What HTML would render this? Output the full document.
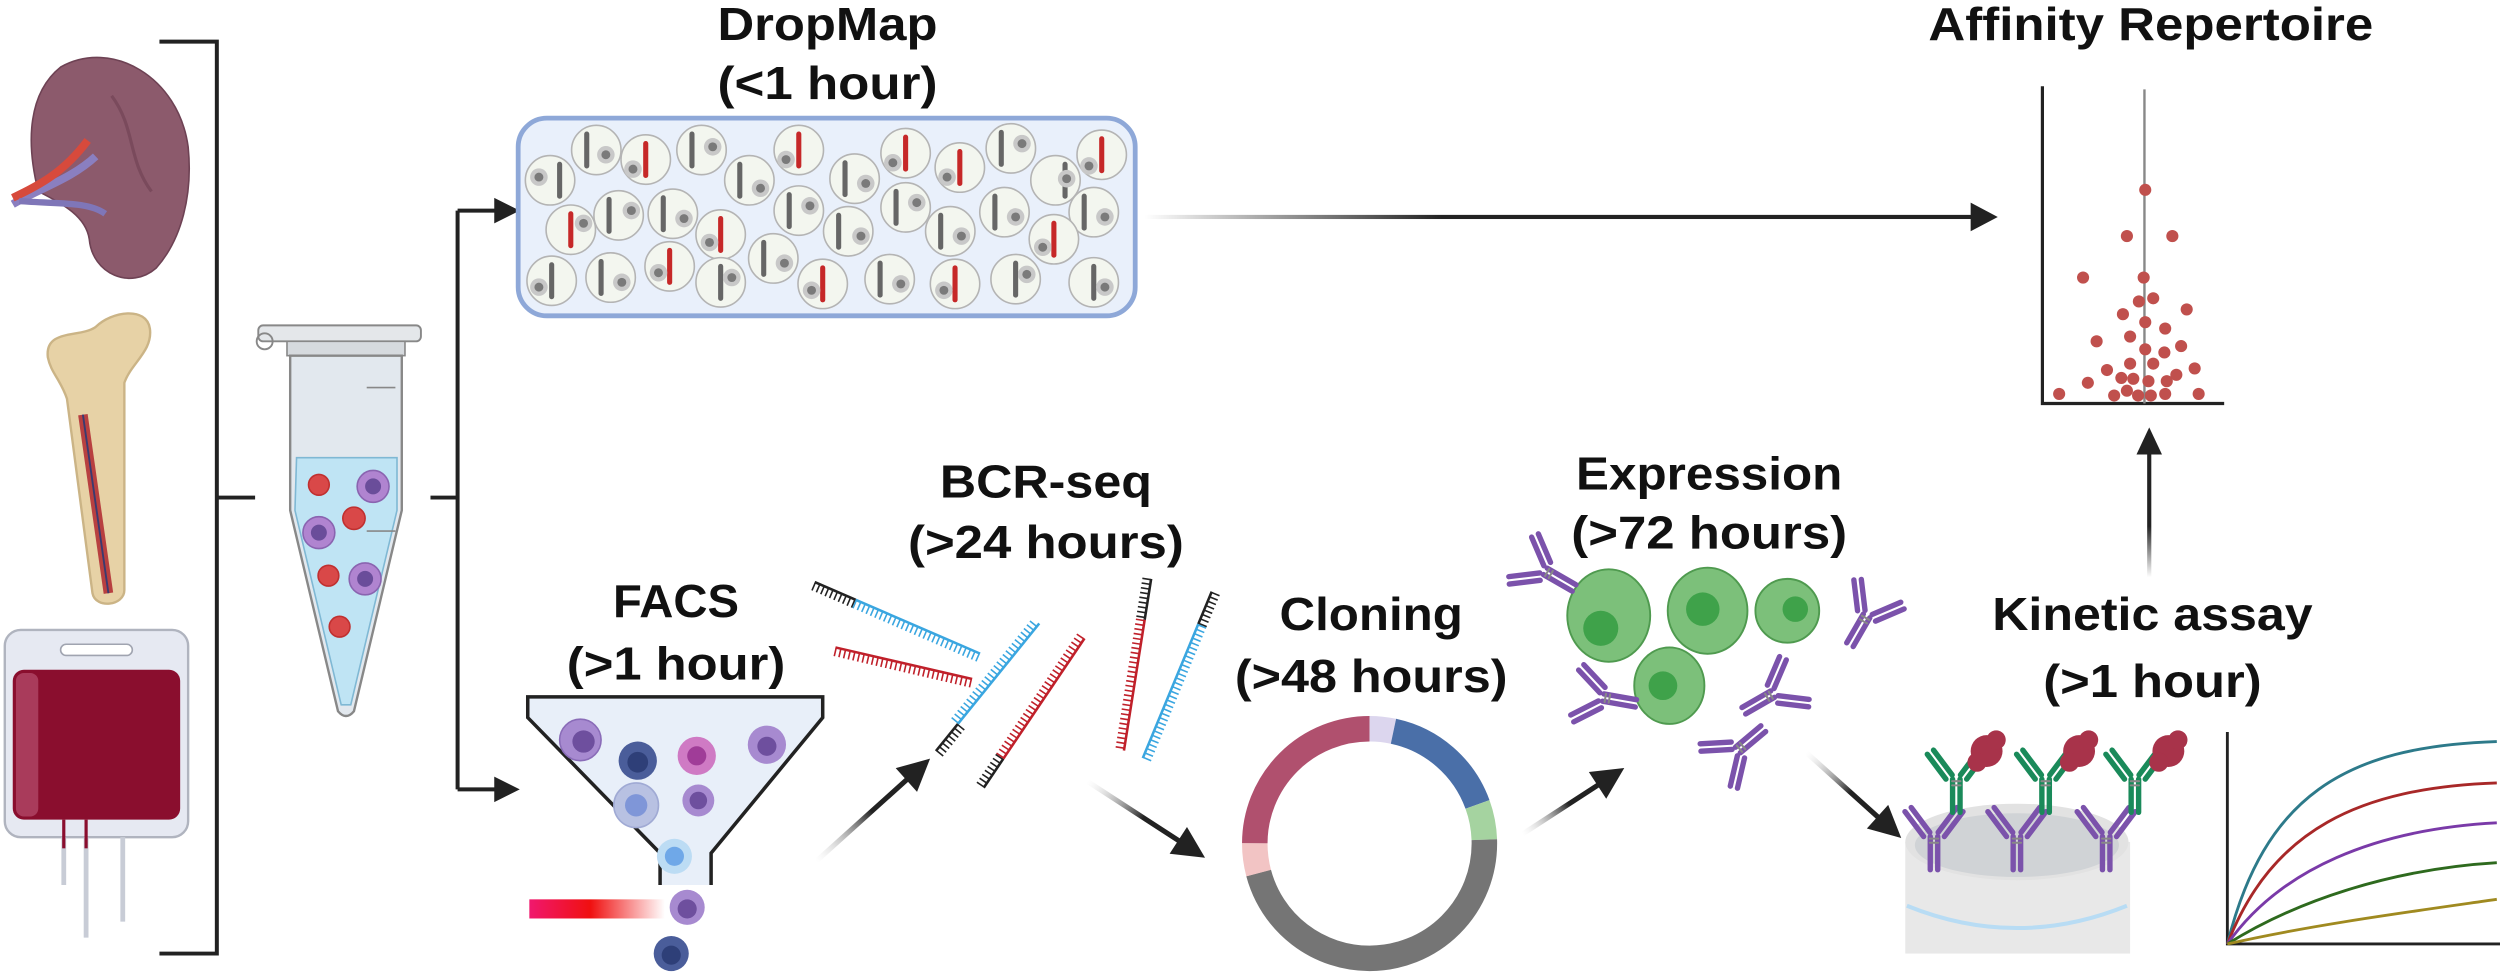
<!DOCTYPE html>
<html><head><meta charset="utf-8"><style>
html,body{margin:0;padding:0;background:#fff;}
svg{display:block;}
text{font-family:"Liberation Sans Narrow","Liberation Sans",sans-serif;font-weight:bold;fill:#111;text-anchor:middle;}
</style></head><body>
<svg width="2500" height="976" viewBox="0 0 1568 612" xmlns="http://www.w3.org/2000/svg">
<defs>
<linearGradient id="gA" x1="718" y1="0" x2="1250" y2="0" gradientUnits="userSpaceOnUse"><stop offset="0" stop-color="#fff"/><stop offset="0.35" stop-color="#222"/><stop offset="1" stop-color="#222"/></linearGradient>
<linearGradient id="gD" x1="0" y1="0" x2="1" y2="0"><stop offset="0" stop-color="#fff" stop-opacity="0.2"/><stop offset="0.6" stop-color="#222"/><stop offset="1" stop-color="#222"/></linearGradient>
<linearGradient id="gU" x1="0" y1="1" x2="0" y2="0"><stop offset="0" stop-color="#fff"/><stop offset="0.4" stop-color="#222"/><stop offset="1" stop-color="#222"/></linearGradient>
<linearGradient id="gL" x1="0" y1="0" x2="1" y2="0"><stop offset="0" stop-color="#f0186e"/><stop offset="0.45" stop-color="#f01010"/><stop offset="1" stop-color="#fff"/></linearGradient>
<g id="ab0" stroke-linecap="round" fill="none">
<line x1="-1.8" y1="2" x2="-1.8" y2="18" stroke-width="2.6"/><line x1="1.8" y1="2" x2="1.8" y2="18" stroke-width="2.6"/>
<line x1="-2" y1="0" x2="-11" y2="-12" stroke-width="2.6"/><line x1="-5" y1="2" x2="-14" y2="-10" stroke-width="2.6"/>
<line x1="2" y1="0" x2="11" y2="-12" stroke-width="2.6"/><line x1="5" y1="2" x2="14" y2="-10" stroke-width="2.6"/>
<line x1="-2" y1="3" x2="2" y2="3" stroke="#888" stroke-width="1"/><line x1="-2" y1="5" x2="2" y2="5" stroke="#888" stroke-width="1"/>
</g>
<g id="ab"><use href="#ab0" transform="scale(1.3)"/></g>
<g id="dg"><circle r="15.5" fill="#f3f6ef" stroke="#b4b4b4" stroke-width="1"/></g>
<g id="cell"><circle r="5.5" fill="#c8c8c8"/><circle r="2.8" fill="#7a7a7a"/></g>
</defs>

<!-- kidney -->
<path d="M38 42 C70 24 112 48 118 92 C121 122 114 150 98 168 C82 182 58 172 56 150 C54 136 40 128 24 120 C16 88 18 58 38 42 Z" fill="#8c5a6c" stroke="#6e4254" stroke-width="1"/>
<path d="M70 60 C85 80 80 100 95 120" stroke="#7a4a5c" stroke-width="2" fill="none"/>
<path d="M8 128 C25 118 45 112 60 98" stroke="#8a7fc0" stroke-width="5" fill="none"/>
<path d="M8 124 C25 116 40 108 55 88" stroke="#d74a3c" stroke-width="5" fill="none"/>
<path d="M12 126 C35 128 55 126 66 134" stroke="#7f76b8" stroke-width="4" fill="none"/>
<!-- bone -->
<path d="M30 224 C28 206 50 212 60 205 C70 195 92 192 94 206 C96 220 82 228 78 240 L78 370 C78 380 60 382 58 372 L42 250 C38 238 32 234 30 224 Z" fill="#e7d2a6" stroke="#cbb486" stroke-width="1.5"/>
<path d="M52 260 L68 372" stroke="#b84040" stroke-width="6" fill="none"/>
<path d="M52 260 L68 372" stroke="#3a3a70" stroke-width="1.2" fill="none"/>
<!-- blood bag -->
<rect x="3" y="395" width="115" height="130" rx="10" fill="#e6e9f2" stroke="#b0b4bf" stroke-width="1.5"/>
<rect x="38" y="404" width="45" height="7" rx="3.5" fill="#fff" stroke="#a0a4b0"/>
<rect x="8" y="420" width="105" height="94" rx="7" fill="#8a0e2e"/>
<rect x="10" y="422" width="14" height="90" rx="5" fill="#b04766" opacity="0.8"/>
<g stroke="#c8ccd6" stroke-width="3"><line x1="40" y1="525" x2="40" y2="555"/><line x1="54" y1="525" x2="54" y2="588"/><line x1="77" y1="525" x2="77" y2="578"/></g>
<g stroke="#8a0e2e" stroke-width="2"><line x1="40" y1="514" x2="40" y2="532"/><line x1="54" y1="514" x2="54" y2="532"/></g>
<!-- bracket -->
<path d="M100 26 H136 V598 H100" stroke="#222" stroke-width="2.5" fill="none"/>
<line x1="137" y1="312" x2="160" y2="312" stroke="#222" stroke-width="2.5"/>
<!-- tube -->
<rect x="162" y="204" width="102" height="10" rx="3" fill="#e4e7ea" stroke="#888" stroke-width="1.2"/>
<circle cx="166" cy="214" r="5" fill="none" stroke="#888" stroke-width="1.2"/>
<rect x="180" y="214" width="74" height="9" fill="#d6dade" stroke="#888" stroke-width="1"/>
<path d="M182 223 H252 V320 L222 446 Q217 452 212 446 L182 320 Z" fill="#e2e8ee" stroke="#888" stroke-width="1.5"/>
<path d="M186 287 H249 V320 L220 442 L214 442 L185 320 Z" fill="#bfe4f4" stroke="#7fb8d4" stroke-width="1"/>
<line x1="230" y1="243" x2="248" y2="243" stroke="#888"/><line x1="230" y1="333" x2="248" y2="333" stroke="#888"/>
<g fill="#d94848" stroke="#c03030"><circle cx="200" cy="304" r="6.5"/><circle cx="222" cy="325" r="7"/><circle cx="206" cy="361" r="6.5"/><circle cx="213" cy="393" r="6.5"/></g>
<g fill="#b084d0" stroke="#8a64b0"><circle cx="234" cy="305" r="10"/><circle cx="200" cy="334" r="10"/><circle cx="229" cy="363" r="10"/></g>
<g fill="#6a4d9a"><circle cx="234" cy="305" r="5"/><circle cx="200" cy="334" r="5"/><circle cx="229" cy="363" r="5"/></g>
<!-- branch -->
<path d="M270 312 H287 M287 132 V495 M287 132 H312 M287 495 H312" stroke="#222" stroke-width="2.5" fill="none"/>
<polygon points="310,124 326,132 310,140" fill="#222"/><polygon points="310,487 326,495 310,503" fill="#222"/>
<!-- DropMap box -->
<rect x="325" y="74" width="387" height="124" rx="18" fill="#e9f0fb" stroke="#8ea8d8" stroke-width="3"/>
<g>
<use href="#dg" x="374" y="94"/><use href="#dg" x="405" y="100"/><use href="#dg" x="440" y="94"/><use href="#dg" x="501" y="94"/><use href="#dg" x="568" y="96"/><use href="#dg" x="602" y="105"/><use href="#dg" x="634" y="93"/><use href="#dg" x="691" y="97"/>
<use href="#dg" x="345" y="113"/><use href="#dg" x="470" y="113"/><use href="#dg" x="536" y="112"/><use href="#dg" x="662" y="113"/>
<use href="#dg" x="388" y="135"/><use href="#dg" x="422" y="134"/><use href="#dg" x="501" y="132"/><use href="#dg" x="568" y="130"/><use href="#dg" x="630" y="133"/><use href="#dg" x="686" y="133"/>
<use href="#dg" x="358" y="144"/><use href="#dg" x="452" y="147"/><use href="#dg" x="532" y="145"/><use href="#dg" x="596" y="145"/><use href="#dg" x="661" y="150"/>
<use href="#dg" x="485" y="162"/>
<use href="#dg" x="346" y="176"/><use href="#dg" x="383" y="174"/><use href="#dg" x="420" y="167"/><use href="#dg" x="452" y="177"/><use href="#dg" x="516" y="178"/><use href="#dg" x="558" y="175"/><use href="#dg" x="599" y="178"/><use href="#dg" x="637" y="175"/><use href="#dg" x="686" y="177"/>
</g>
<g stroke-width="3.2" stroke-linecap="round">
<g stroke="#666"><line x1="368" y1="84" x2="368" y2="104"/><line x1="434" y1="84" x2="434" y2="104"/><line x1="628" y1="83" x2="628" y2="103"/><line x1="351" y1="103" x2="351" y2="123"/><line x1="464" y1="103" x2="464" y2="123"/><line x1="530" y1="102" x2="530" y2="122"/><line x1="668" y1="103" x2="668" y2="123"/><line x1="382" y1="125" x2="382" y2="145"/><line x1="416" y1="124" x2="416" y2="144"/><line x1="495" y1="122" x2="495" y2="142"/><line x1="562" y1="120" x2="562" y2="140"/><line x1="624" y1="123" x2="624" y2="143"/><line x1="680" y1="123" x2="680" y2="143"/><line x1="526" y1="135" x2="526" y2="155"/><line x1="590" y1="135" x2="590" y2="155"/><line x1="479" y1="152" x2="479" y2="172"/><line x1="346" y1="166" x2="346" y2="186"/><line x1="377" y1="164" x2="377" y2="184"/><line x1="452" y1="167" x2="452" y2="187"/><line x1="552" y1="165" x2="552" y2="185"/><line x1="637" y1="165" x2="637" y2="185"/><line x1="686" y1="167" x2="686" y2="187"/></g>
<g stroke="#c62828"><line x1="405" y1="90" x2="405" y2="110"/><line x1="501" y1="84" x2="501" y2="104"/><line x1="568" y1="86" x2="568" y2="106"/><line x1="602" y1="95" x2="602" y2="115"/><line x1="691" y1="87" x2="691" y2="107"/><line x1="358" y1="134" x2="358" y2="154"/><line x1="452" y1="137" x2="452" y2="157"/><line x1="661" y1="140" x2="661" y2="160"/><line x1="420" y1="157" x2="420" y2="177"/><line x1="516" y1="168" x2="516" y2="188"/><line x1="599" y1="168" x2="599" y2="188"/></g>
</g>
<g>
<use href="#cell" x="380" y="97"/><use href="#cell" x="397" y="106"/><use href="#cell" x="447" y="92"/><use href="#cell" x="493" y="100"/><use href="#cell" x="560" y="102"/><use href="#cell" x="594" y="111"/><use href="#cell" x="641" y="90"/><use href="#cell" x="683" y="104"/>
<use href="#cell" x="338" y="111"/><use href="#cell" x="477" y="118"/><use href="#cell" x="543" y="115"/><use href="#cell" x="669" y="112"/>
<use href="#cell" x="396" y="132"/><use href="#cell" x="429" y="137"/><use href="#cell" x="508" y="129"/><use href="#cell" x="575" y="127"/><use href="#cell" x="637" y="136"/><use href="#cell" x="693" y="136"/>
<use href="#cell" x="366" y="140"/><use href="#cell" x="445" y="152"/><use href="#cell" x="540" y="148"/><use href="#cell" x="603" y="148"/><use href="#cell" x="654" y="155"/>
<use href="#cell" x="492" y="165"/>
<use href="#cell" x="338" y="180"/><use href="#cell" x="390" y="177"/><use href="#cell" x="413" y="171"/><use href="#cell" x="459" y="174"/><use href="#cell" x="509" y="182"/><use href="#cell" x="565" y="178"/><use href="#cell" x="592" y="182"/><use href="#cell" x="644" y="172"/><use href="#cell" x="693" y="180"/>
</g>
<!-- DropMap arrow -->
<rect x="718" y="134.7" width="522" height="2.6" fill="url(#gA)"/>
<polygon points="1236,127 1253,136 1236,145" fill="#222"/>
<!-- titles -->
<text x="519" y="25" font-size="29" textLength="138" lengthAdjust="spacingAndGlyphs">DropMap</text>
<text x="519" y="62" font-size="29" textLength="138" lengthAdjust="spacingAndGlyphs">(&lt;1 hour)</text>
<text x="1349" y="25" font-size="29" textLength="279" lengthAdjust="spacingAndGlyphs">Affinity Repertoire</text>
<text x="424" y="387" font-size="29" textLength="79" lengthAdjust="spacingAndGlyphs">FACS</text>
<text x="424" y="426" font-size="29" textLength="137" lengthAdjust="spacingAndGlyphs">(&gt;1 hour)</text>
<text x="656" y="312" font-size="29" textLength="133" lengthAdjust="spacingAndGlyphs">BCR-seq</text>
<text x="656" y="350" font-size="29" textLength="173" lengthAdjust="spacingAndGlyphs">(&gt;24 hours)</text>
<text x="860" y="395" font-size="29" textLength="115" lengthAdjust="spacingAndGlyphs">Cloning</text>
<text x="860" y="434" font-size="29" textLength="171" lengthAdjust="spacingAndGlyphs">(&gt;48 hours)</text>
<text x="1072" y="307" font-size="29" textLength="167" lengthAdjust="spacingAndGlyphs">Expression</text>
<text x="1072" y="344" font-size="29" textLength="173" lengthAdjust="spacingAndGlyphs">(&gt;72 hours)</text>
<text x="1350" y="395" font-size="29" textLength="201" lengthAdjust="spacingAndGlyphs">Kinetic assay</text>
<text x="1350" y="437" font-size="29" textLength="137" lengthAdjust="spacingAndGlyphs">(&gt;1 hour)</text>
<!-- affinity plot -->
<path d="M1281 54 V253 H1395" stroke="#222" stroke-width="2" fill="none"/>
<line x1="1345" y1="56" x2="1345" y2="253" stroke="#888" stroke-width="1.5"/>
<g fill="#c0504d">
<circle cx="1345.5" cy="119" r="3.8"/><circle cx="1334" cy="148" r="3.8"/><circle cx="1362.5" cy="148" r="3.8"/><circle cx="1306.5" cy="174" r="3.8"/><circle cx="1344.5" cy="174" r="3.8"/><circle cx="1341.5" cy="189" r="3.8"/><circle cx="1350.5" cy="187" r="3.8"/><circle cx="1371.5" cy="194" r="3.8"/><circle cx="1331.5" cy="197" r="3.8"/><circle cx="1345.5" cy="202" r="3.8"/><circle cx="1358" cy="206" r="3.8"/><circle cx="1315" cy="214" r="3.8"/><circle cx="1336" cy="211" r="3.8"/><circle cx="1368" cy="217" r="3.8"/><circle cx="1345.5" cy="219" r="3.8"/><circle cx="1357.5" cy="221" r="3.8"/><circle cx="1336" cy="228" r="3.8"/><circle cx="1350.5" cy="228" r="3.8"/><circle cx="1321.5" cy="232" r="3.8"/><circle cx="1376.5" cy="231" r="3.8"/><circle cx="1330.5" cy="237" r="3.8"/><circle cx="1338" cy="237.5" r="3.8"/><circle cx="1365" cy="235" r="3.8"/><circle cx="1309.5" cy="240" r="3.8"/><circle cx="1347.5" cy="239" r="3.8"/><circle cx="1359" cy="239" r="3.8"/><circle cx="1291.5" cy="247" r="3.8"/><circle cx="1326" cy="248" r="3.8"/><circle cx="1334" cy="245" r="3.8"/><circle cx="1341" cy="248" r="3.8"/><circle cx="1349" cy="248" r="3.8"/><circle cx="1358" cy="247" r="3.8"/><circle cx="1379" cy="247" r="3.8"/>
</g>
<!-- up arrow -->
<rect x="1346.7" y="282" width="2.6" height="80" fill="url(#gU)"/>
<polygon points="1340,285 1348,268 1356,285" fill="#222"/>
<!-- funnel -->
<path d="M331 437 H516 V450 L446 535 V555 H414 V535 L331 450 Z" fill="#e8eff9"/>
<path d="M414 555 V535 L331 450 V437 H516 V450 L446 535 V555" fill="none" stroke="#222" stroke-width="2.2"/>
<g><circle cx="364" cy="464" r="13" fill="#a78ad0" stroke="#8a6cb8"/><circle cx="366" cy="465" r="7" fill="#6e4f9e"/>
<circle cx="400" cy="477" r="12" fill="#4a5d9a"/><circle cx="400" cy="478" r="6.5" fill="#2e3f78"/>
<circle cx="437" cy="474" r="12" fill="#cf7ac4"/><circle cx="437" cy="474" r="6" fill="#a03c98"/>
<circle cx="481" cy="467" r="12" fill="#a78ad0"/><circle cx="481" cy="468" r="6" fill="#6e4f9e"/>
<circle cx="399" cy="505" r="14" fill="#b8c1e2" stroke="#a0aad4"/><circle cx="399" cy="505" r="7" fill="#7f96d8"/>
<circle cx="438" cy="502" r="10" fill="#a78ad0"/><circle cx="438" cy="502" r="5.5" fill="#6e4f9e"/>
<circle cx="423" cy="537" r="11" fill="#bcdcf4"/><circle cx="423" cy="537" r="6" fill="#6fa8e8"/>
<circle cx="431" cy="569" r="11" fill="#a78ad0"/><circle cx="431" cy="570" r="6" fill="#6e4f9e"/>
<circle cx="421" cy="598" r="11" fill="#4a5d9a"/><circle cx="421" cy="599" r="6" fill="#2e3f78"/></g>
<rect x="332" y="564" width="85" height="12" fill="url(#gL)"/>
<!-- diagonal arrows -->
<g transform="translate(512,540) rotate(-42)"><rect x="0" y="-1.6" width="78" height="3.2" fill="url(#gD)"/><polygon points="76,-10 96,0 76,10" fill="#222"/></g>
<g transform="translate(682,490) rotate(33)"><rect x="0" y="-1.6" width="70" height="3.2" fill="url(#gD)"/><polygon points="68,-10 88,0 68,10" fill="#222"/></g>
<g transform="translate(955,523) rotate(-33)"><rect x="0" y="-1.6" width="58" height="3.2" fill="url(#gD)"/><polygon points="56,-10 76,0 56,10" fill="#222"/></g>
<g transform="translate(1133,472) rotate(42)"><rect x="0" y="-1.6" width="62" height="3.2" fill="url(#gD)"/><polygon points="60,-10 80,0 60,10" fill="#222"/></g>
<!-- DNA strands -->
<g stroke-width="1.6" fill="none">
<g transform="translate(511,365) rotate(23.4)"><line x1="0" y1="0" x2="28" y2="0" stroke="#222"/><line x1="0" y1="3" x2="28" y2="3" stroke="#222" stroke-width="5" stroke-dasharray="1 2"/><line x1="28" y1="0" x2="113" y2="0" stroke="#3aa6e0"/><line x1="28" y1="3" x2="113" y2="3" stroke="#3aa6e0" stroke-width="5" stroke-dasharray="1 2"/></g>
<g transform="translate(524,406) rotate(13)"><line x1="0" y1="0" x2="88" y2="0" stroke="#c0202a"/><line x1="0" y1="3" x2="88" y2="3" stroke="#c0202a" stroke-width="5" stroke-dasharray="1 2"/></g>
<g transform="translate(587,471) rotate(-51)"><line x1="0" y1="0" x2="22" y2="0" stroke="#222"/><line x1="0" y1="3" x2="22" y2="3" stroke="#222" stroke-width="5" stroke-dasharray="1 2"/><line x1="22" y1="0" x2="103" y2="0" stroke="#3aa6e0"/><line x1="22" y1="-3" x2="103" y2="-3" stroke="#3aa6e0" stroke-width="5" stroke-dasharray="1 2"/></g>
<g transform="translate(617,494) rotate(-56)"><line x1="0" y1="0" x2="22" y2="0" stroke="#222"/><line x1="0" y1="-3" x2="22" y2="-3" stroke="#222" stroke-width="5" stroke-dasharray="1 2"/><line x1="22" y1="0" x2="113" y2="0" stroke="#c0202a"/><line x1="22" y1="-3" x2="113" y2="-3" stroke="#c0202a" stroke-width="5" stroke-dasharray="1 2"/></g>
<g transform="translate(722,363) rotate(99)"><line x1="0" y1="0" x2="26" y2="0" stroke="#222"/><line x1="0" y1="3" x2="26" y2="3" stroke="#222" stroke-width="5" stroke-dasharray="1 2"/><line x1="26" y1="0" x2="109" y2="0" stroke="#c0202a"/><line x1="26" y1="3" x2="109" y2="3" stroke="#c0202a" stroke-width="5" stroke-dasharray="1 2"/></g>
<g transform="translate(760,371) rotate(112.5)"><line x1="0" y1="0" x2="22" y2="0" stroke="#222"/><line x1="0" y1="-3" x2="22" y2="-3" stroke="#222" stroke-width="5" stroke-dasharray="1 2"/><line x1="22" y1="0" x2="113" y2="0" stroke="#3aa6e0"/><line x1="22" y1="-3" x2="113" y2="-3" stroke="#3aa6e0" stroke-width="5" stroke-dasharray="1 2"/></g>
</g>
<!-- plasmid ring -->
<g transform="rotate(-90 859 529)" fill="none" stroke-width="16">
<circle cx="859" cy="529" r="72" stroke="#b0506e" stroke-dasharray="113 400" stroke-dashoffset="-339.3"/>
<circle cx="859" cy="529" r="72" stroke="#dcd6ee" stroke-dasharray="15.1 450" stroke-dashoffset="0"/>
<circle cx="859" cy="529" r="72" stroke="#4a6fa8" stroke-dasharray="72.9 400" stroke-dashoffset="-15.1"/>
<circle cx="859" cy="529" r="72" stroke="#a5d3a0" stroke-dasharray="22.6 450" stroke-dashoffset="-88"/>
<circle cx="859" cy="529" r="72" stroke="#757575" stroke-dasharray="209.9 300" stroke-dashoffset="-110.6"/>
<circle cx="859" cy="529" r="72" stroke="#f2c4c4" stroke-dasharray="18.9 450" stroke-dashoffset="-320.4"/>
</g>
<!-- expression cells -->
<g stroke="#4f9a4f" stroke-width="1.2">
<ellipse cx="1009" cy="386" rx="26" ry="29" fill="#7cc07a"/><ellipse cx="1071" cy="383" rx="25" ry="27" fill="#7cc07a"/><ellipse cx="1121" cy="383" rx="20" ry="20" fill="#7cc07a"/><ellipse cx="1047" cy="430" rx="22" ry="24" fill="#7cc07a"/>
</g>
<g fill="#3fa24a"><circle cx="1004" cy="394" r="11"/><circle cx="1068" cy="382" r="10.5"/><circle cx="1126" cy="382" r="8"/><circle cx="1043" cy="430" r="9"/></g>
<g stroke="#7b52ab">
<use href="#ab" transform="translate(967,357) rotate(-60)"/>
<use href="#ab" transform="translate(1172,384) rotate(30)"/>
<use href="#ab" transform="translate(1003,437) rotate(-80)"/>
<use href="#ab" transform="translate(1114,434) rotate(60)"/>
<use href="#ab" transform="translate(1088,472) rotate(-130)"/>
</g>
<!-- plate -->
<rect x="1195" y="528" width="141" height="70" fill="#e8e8e8"/>
<ellipse cx="1265" cy="528" rx="70" ry="24" fill="#e2e2e2"/>
<ellipse cx="1265" cy="530" rx="64" ry="20" fill="#d0d3d6"/>
<path d="M1196 568 Q1265 596 1334 568" fill="none" stroke="#b8dcf4" stroke-width="2.5"/>
<g stroke="#7b52ab"><use href="#ab" transform="translate(1213,522)"/><use href="#ab" transform="translate(1265,522)"/><use href="#ab" transform="translate(1321,522)"/></g>
<g stroke="#1a8a5a"><use href="#ab" transform="translate(1227,486)"/><use href="#ab" transform="translate(1283,486)"/><use href="#ab" transform="translate(1339,486)"/></g>
<g fill="#a8334a">
<circle cx="1246" cy="471" r="10"/><circle cx="1252" cy="464" r="6"/><circle cx="1240" cy="478" r="6"/>
<circle cx="1304" cy="471" r="10"/><circle cx="1310" cy="464" r="6"/><circle cx="1298" cy="478" r="6"/>
<circle cx="1360" cy="471" r="10"/><circle cx="1366" cy="464" r="6"/><circle cx="1354" cy="478" r="6"/>
</g>
<!-- kinetic plot -->
<path d="M1397 459 V592 H1568" stroke="#222" stroke-width="1.8" fill="none"/>
<g fill="none" stroke-width="1.8">
<path d="M1397 592 C1420 500 1470 468 1566 465" stroke="#2d7a8a"/>
<path d="M1397 592 C1425 520 1480 494 1566 491" stroke="#a82828"/>
<path d="M1397 592 C1430 545 1490 520 1566 516" stroke="#7a3aa8"/>
<path d="M1397 592 C1440 565 1500 545 1566 541" stroke="#2e6a1e"/>
<path d="M1397 592 C1450 580 1510 572 1566 564" stroke="#a08a20"/>
</g>
</svg>
</body></html>
